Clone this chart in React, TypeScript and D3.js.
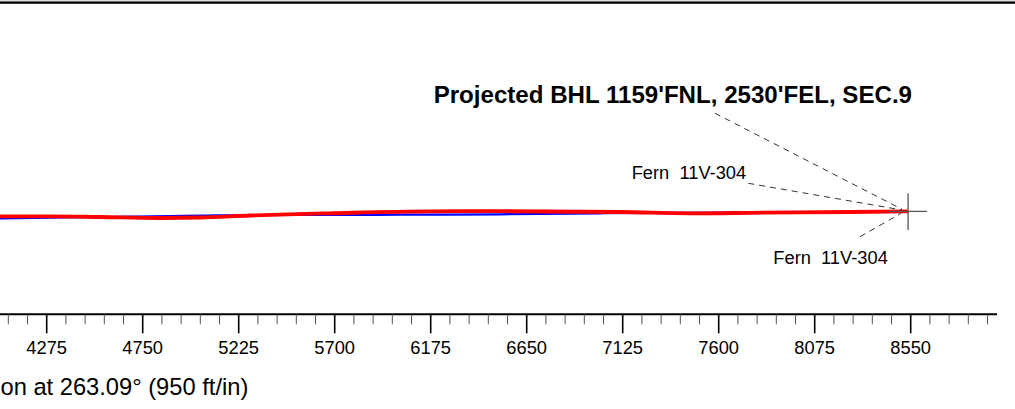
import React from "react";
import * as d3 from "d3";

// Vertical section (ft) and TVD (ft) of the two wellbore traces
const planVS = [4044, 4539, 5034, 5281, 5726, 6023, 6519, 7013, 7261, 7756, 8537];
const planTVD = [7234.6, 7228.2, 7221.8, 7218.3, 7218.3, 7216.8, 7214.8, 7209.9, 7207.4, 7206.4, 7200];
const actualVS = [4044, 4291, 4539, 4836, 5034, 5281, 5677, 6172, 6519, 7113, 7509, 7756, 8251, 8537];
const actualTVD = [7224.7, 7224.7, 7228.2, 7233.1, 7230.7, 7220.8, 7209.9, 7200, 7199.5, 7203.5, 7209.9, 7207.4, 7203.5, 7200];

const majorTicks = [4275, 4750, 5225, 5700, 6175, 6650, 7125, 7600, 8075, 8550];
const minorStep = 95;
const bhlVS = 8537;
const bhlTVD = 7200;

const titleText = "Projected BHL 1159'FNL, 2530'FEL, SEC.9";
const wellLabel = "Fern  11V-304";
const axisTitle = "on at 263.09° (950 ft/in)";

const W = 1015;
const H = 409;
const PX_PER_FT = 96 / 475;
const FONT = "'Liberation Sans', Arial, Helvetica, sans-serif";

export default function App() {
  const x0 = 46.7;
  const x = d3
    .scaleLinear()
    .domain([4275, 4275 + (W - x0) / PX_PER_FT])
    .range([x0, W]);
  const y = d3
    .scaleLinear()
    .domain([7200, 7200 + 100 / PX_PER_FT])
    .range([211.3, 311.3]);

  const axisY = 314.3;
  const axisEndVS = x.invert(997);

  const minor: number[] = [];
  for (let v = majorTicks[0] - 5 * minorStep; v <= axisEndVS; v += minorStep) {
    if (!majorTicks.includes(Math.round(v))) minor.push(v);
  }

  const line = d3
    .line<[number, number]>()
    .x((d) => x(d[0]))
    .y((d) => y(d[1]))
    .curve(d3.curveMonotoneX);

  const planPts = planVS.map((v, i) => [v, planTVD[i]] as [number, number]);
  const actPts = actualVS.map((v, i) => [v, actualTVD[i]] as [number, number]);

  const cx = x(bhlVS);
  const cy = y(bhlTVD);

  const leaders = [
    [715, 113.3, cx - 6, cy - 2],
    [748.3, 183.3, cx - 6, cy - 1.3],
    [860, 236.7, cx - 7, cy + 2],
  ];

  return (
    <svg
      width={W}
      height={H}
      viewBox={`0 0 ${W} ${H}`}
      style={{ position: "absolute", left: 0, top: 0, background: "#fff" }}
    >
      <rect x={0} y={0} width={W} height={H} fill="#fff" />
      {/* top frame edge */}
      <line x1={0} x2={W} y1={1} y2={1} stroke="#bbb" strokeWidth={1} />
      <line x1={0} x2={W} y1={2.7} y2={2.7} stroke="#000" strokeWidth={2.2} />

      {/* well traces */}
      <path d={line(planPts) || ""} fill="none" stroke="#0000ff" strokeWidth={2.2} />
      <path d={line(actPts) || ""} fill="none" stroke="#ff0000" strokeWidth={3.8} strokeLinecap="butt" />

      {/* BHL crosshair */}
      <line x1={cx - 19} x2={cx + 19} y1={cy} y2={cy} stroke="#555" strokeWidth={1.3} />
      <line x1={cx} x2={cx} y1={cy - 18} y2={cy + 18.7} stroke="#555" strokeWidth={1.3} />

      {/* leader lines */}
      {leaders.map((l, i) => (
        <line
          key={i}
          x1={l[0]}
          y1={l[1]}
          x2={l[2]}
          y2={l[3]}
          stroke="#333"
          strokeWidth={1}
          strokeDasharray="6,5"
        />
      ))}

      {/* labels */}
      <text x={912} y={103.3} textAnchor="end" fontFamily={FONT} fontWeight="bold" fontSize={24.1} fill="#000">
        {titleText}
      </text>
      <text x={631.7} y={179} fontFamily={FONT} fontSize={18.3} fill="#000" style={{ whiteSpace: "pre" }}>
        {wellLabel}
      </text>
      <text x={773.3} y={264} fontFamily={FONT} fontSize={18.3} fill="#000" style={{ whiteSpace: "pre" }}>
        {wellLabel}
      </text>

      {/* axis */}
      <line x1={0} x2={x(axisEndVS)} y1={axisY} y2={axisY} stroke="#000" strokeWidth={2} />
      {minor.map((v) => (
        <line key={`m${v}`} x1={x(v)} x2={x(v)} y1={axisY} y2={324.3} stroke="#555" strokeWidth={1} />
      ))}
      {majorTicks.map((v) => (
        <g key={`M${v}`}>
          <line x1={x(v)} x2={x(v)} y1={axisY} y2={333.3} stroke="#000" strokeWidth={1.6} />
          <text x={x(v)} y={354} textAnchor="middle" fontFamily={FONT} fontSize={18.3} fill="#000">
            {v}
          </text>
        </g>
      ))}
      <text x={248.3} y={394.5} textAnchor="end" fontFamily={FONT} fontSize={23.7} fill="#000">
        {axisTitle}
      </text>
    </svg>
  );
}
